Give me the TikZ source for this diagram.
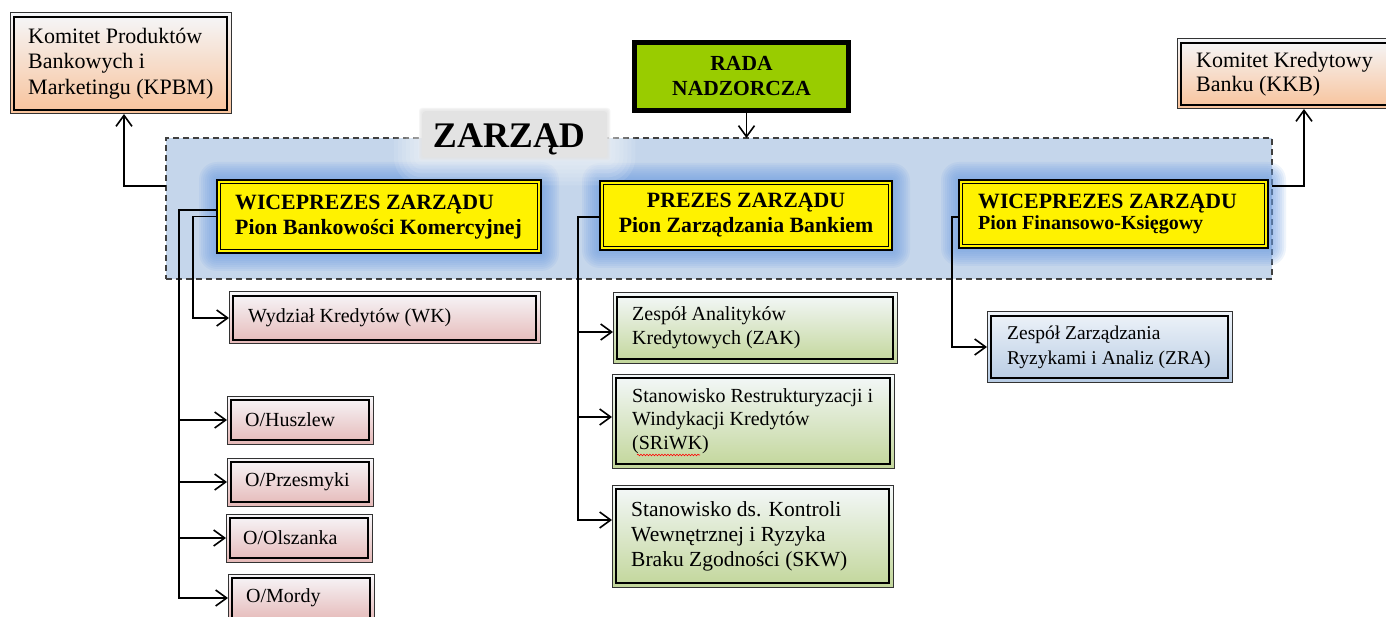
\documentclass[tikz,border=0pt]{standalone}
\usepackage{fontspec}
\setmainfont{Liberation Serif}
\usetikzlibrary{arrows.meta,decorations.pathmorphing}
\definecolor{peachtop}{HTML}{F5F7FA}
\definecolor{peachbot}{HTML}{F8C29A}
\definecolor{pinktop}{HTML}{F7F7FA}
\definecolor{pinkbot}{HTML}{E5B8B7}
\definecolor{greentop}{HTML}{F4F8FA}
\definecolor{greenbot}{HTML}{C2D69A}
\definecolor{bluetop}{HTML}{EEF3F9}
\definecolor{bluebot}{HTML}{B7CBE3}
\definecolor{boardfill}{HTML}{C5D6EB}
\definecolor{glowblue}{HTML}{6D9EE3}
\definecolor{radagreen}{HTML}{99CC00}
\definecolor{labelgray}{HTML}{E3E3E3}
\pgfdeclarelayer{board}
\pgfdeclarelayer{glow}
\pgfsetlayers{board,glow,main}
\tikzset{
  unit/.style={draw=black!80, line width=1pt, inner sep=0pt, outer sep=0pt, anchor=north west},
  peach/.style={unit, top color=peachtop, bottom color=peachbot},
  pink/.style={unit, top color=pinktop, bottom color=pinkbot},
  green/.style={unit, top color=greentop, bottom color=greenbot},
  bluebox/.style={unit, top color=bluetop, bottom color=bluebot},
  chief/.style={draw=black, line width=2.2pt, fill=yellow, inner sep=0pt, outer sep=0pt,
    anchor=north west, font=\bfseries\fontsize{21.8}{25}\selectfont},
  txt/.style n args={2}{anchor=west, align=left, inner sep=0pt, font=\fontsize{#1}{#2}\selectfont},
  arr/.style={line width=1.4pt, -{Straight Barb[length=11pt,width=16pt,line width=1.6pt]}},
}
\begin{document}
\begin{tikzpicture}[x=1pt,y=-1pt]
\useasboundingbox (0,0) rectangle (1386,617);

% board of the management
\begin{pgfonlayer}{board}
  \fill[white] (0,0) rectangle (1386,617);
  \node[draw=black!75, dash pattern=on 6pt off 4pt, line width=1.5pt, fill=boardfill,
        minimum width=1106, minimum height=141, anchor=north west,
        inner sep=0pt, outer sep=0pt] (zb) at (166,138) {};
\end{pgfonlayer}

% supervisory board
\node[draw=black, line width=5pt, fill=radagreen, minimum width=214, minimum height=68,
      anchor=north west, inner sep=0pt, outer sep=0pt, align=center,
      font=\bfseries\fontsize{21.5}{25}\selectfont] (rada) at (634.5,42.5) {RADA\\NADZORCZA};

% title of the board
\node[fill=labelgray, rounded corners=3pt, minimum width=185, minimum height=46,
      anchor=north west, inner sep=0pt] (zl) at (422,111) {};
\node[anchor=base, inner sep=0pt, font=\bfseries\fontsize{36}{40}\selectfont] (zt) at (509,148) {ZARZĄD};

% committees
\node[peach, minimum width=221, minimum height=101] (kpbm) at (10,13) {};
\node[txt={22}{25.5}] (kpbm-t) at ([xshift=18pt]kpbm.west) {Komitet Produktów\\Bankowych i\\Marketingu (KPBM)};
\node[peach, minimum width=254, minimum height=70] (kkb) at (1177,39) {};
\node[txt={22}{24.5}] (kkb-t) at ([xshift=19pt]kkb.west) {Komitet Kredytowy\\Banku (KKB)};

% management members
\node[chief, minimum width=324, minimum height=73] (wb) at (217,180) {};
\node[anchor=west, align=left, inner sep=0pt, font=\bfseries\fontsize{21.8}{25}\selectfont] (wb-t)
  at ([xshift=18pt,yshift=-1pt]wb.west) {WICEPREZES ZARZĄDU\\Pion Bankowości Komercyjnej};
\node[chief, minimum width=292, minimum height=69, align=center] (pz) at (600,181)
  {PREZES ZARZĄDU\\Pion Zarządzania Bankiem};
\node[chief, minimum width=309, minimum height=68] (wf) at (959,180) {};
\node[anchor=west, align=left, inner sep=0pt, font=\bfseries\fontsize{21.8}{21.5}\selectfont] (wf-t)
  at ([xshift=19pt]wf.west) {WICEPREZES ZARZĄDU\\{\fontsize{20}{21.5}\selectfont Pion Finansowo-Księgowy}};

% commercial banking units
\node[pink, minimum width=311, minimum height=52] (wk) at (229,292) {};
\node[txt={20}{23.5}] (wk-t) at ([xshift=19pt]wk.west) {Wydział Kredytów (WK)};
\node[pink, minimum width=146, minimum height=48] (hus) at (227,396) {};
\node[txt={20}{23.5}] (hus-t) at ([xshift=18pt]hus.west) {O/Huszlew};
\node[pink, minimum width=146, minimum height=48] (prz) at (227,458) {};
\node[txt={20}{23.5}] (prz-t) at ([xshift=18pt]prz.west) {O/Przesmyki};
\node[pink, minimum width=146, minimum height=48] (ols) at (226,514) {};
\node[txt={20}{23.5}] (ols-t) at ([xshift=17pt]ols.west) {O/Olszanka};
\node[pink, minimum width=146, minimum height=48] (mor) at (228,574) {};
\node[txt={20}{23.5}] (mor-t) at ([xshift=18pt]mor.west) {O/Mordy};

% bank management units
\node[green, minimum width=284, minimum height=70] (zak) at (613,293) {};
\node[txt={20}{24}] (zak-t) at ([xshift=19pt]zak.west) {Zespół Analityków\\Kredytowych (ZAK)};
\node[green, minimum width=282, minimum height=94] (sri) at (612,374) {};
\node[txt={20}{23.5}] (sri-t) at ([xshift=20pt]sri.west) {Stanowisko Restrukturyzacji i\\Windykacji Kredytów\\(SRiWK)};
\node[green, minimum width=281, minimum height=102] (skw) at (612,485) {};
\node[txt={21.5}{25}] (skw-t) at ([xshift=19pt]skw.west) {Stanowisko ds. Kontroli\\Wewnętrznej i Ryzyka\\Braku Zgodności (SKW)};

% finance unit
\node[bluebox, minimum width=245, minimum height=70] (zra) at (987,312) {};
\node[txt={19.5}{25}] (zra-t) at ([xshift=20pt]zra.west) {Zespół Zarządzania\\Ryzykami i Analiz (ZRA)};

% inner lines of the double frames
\foreach \n in {kpbm,kkb,wk,hus,prz,ols,mor,zak,sri,skw,zra}
  \draw[line width=2.2pt, black] ([shift={(4.3pt,-4.3pt)}]\n.north west) rectangle ([shift={(-4.3pt,4.3pt)}]\n.south east);
\foreach \n in {wb,pz,wf}
  \draw[line width=1pt, black] ([shift={(3.7pt,-3.7pt)}]\n.north west) rectangle ([shift={(-3.7pt,3.7pt)}]\n.south east);

% soft halos
\begin{pgfonlayer}{glow}
  \foreach \n in {wb,pz,wf}
    \foreach \r in {2,4,...,18}
      \fill[glowblue, opacity=0.11, rounded corners=\r pt]
        ([shift={(-\r pt,\r pt)}]\n.north west) rectangle ([shift={(\r pt,-\r pt)}]\n.south east);
  \foreach \r in {4,8,...,28}
    \fill[white, opacity=0.10, rounded corners=\r pt]
      ([shift={(-\r pt,\r pt)}]zl.north west) rectangle ([shift={(\r pt,-\r pt)}]zl.south east);
  \foreach \r in {1,2,3}
    \fill[labelgray, opacity=0.35, rounded corners=3pt]
      ([shift={(-\r pt,\r pt)}]zl.north west) rectangle ([shift={(\r pt,-\r pt)}]zl.south east);
\end{pgfonlayer}

% spelling mark
\draw[red, line width=0.6pt, decorate, decoration={snake, amplitude=0.8pt, segment length=3pt}]
  ([shift={(25pt,-81pt)}]sri.north west) -- ++(63,0);

% connectors
\coordinate (rs) at ([xshift=5pt]rada.south);
\draw[arr] (rs) -- (rs |- zb.north);
\coordinate (zbl) at ([yshift=22.5pt]zb.west);
\coordinate (zbr) at ([yshift=22.5pt]zb.east);
\draw[arr] (zbl) -| ([xshift=3.5pt]kpbm.south);
\draw[arr] (zbr) -| (kkb.south);

\draw[arr] ([yshift=6.5pt]wb.west) -- ++(-38,0) coordinate (ta) |- (mor.west);
\foreach \n in {hus,prz,ols}
  \draw[arr] (ta |- \n.west) -- (\n.west);
\draw[arr] (wb.west) -- ++(-24,0) |- (wk.west);

\coordinate (zakin) at ([yshift=-4pt]zak.west);
\coordinate (sriin) at ([yshift=4pt]sri.west);
\coordinate (skwin) at ([yshift=16pt]skw.west);
\draw[arr] ([yshift=-1.5pt]pz.west) -- ++(-22,0) coordinate (tb) |- (skwin);
\draw[arr] (tb |- zakin) -- (zakin);
\draw[arr] (tb |- sriin) -- (sriin);

\draw[arr] ([yshift=-3pt]wf.west) -- ++(-7,0) |- (zra.west);
\end{tikzpicture}
\end{document}
